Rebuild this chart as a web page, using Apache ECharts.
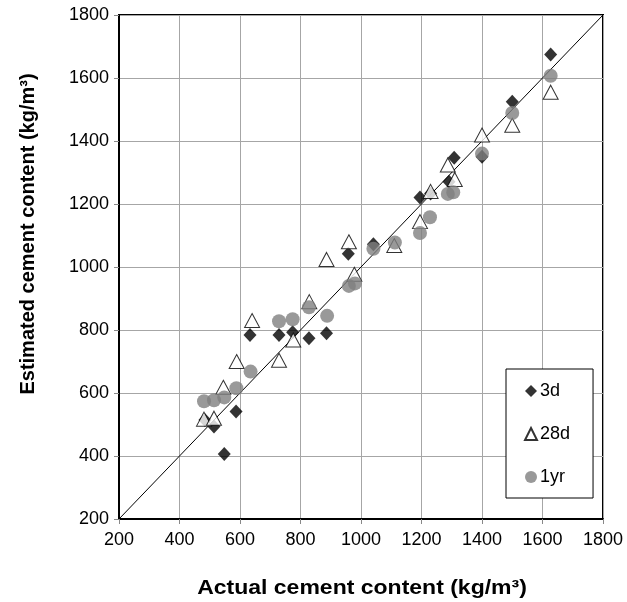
<!DOCTYPE html>
<html lang="en">
<head>
    <meta charset="UTF-8">
    <title>Cement content</title>
    <style>
        html, body { margin: 0; padding: 0; background: #fff; }
        #main { width: 627px; height: 602px; }
    </style>
</head>
<body>
<div id="main"></div>
<script src="https://cdn.jsdelivr.net/npm/echarts@6/dist/echarts.min.js"></script>
<script type="text/javascript">
    // actual vs estimated cement content, kg/m3
    var act3d = [484, 514, 548, 587, 633, 729, 774, 828, 886, 958, 1041, 1195, 1230, 1291, 1308, 1400, 1500, 1627];
    var est3d = [514, 494, 406, 541, 784, 784, 793, 774, 790, 1042, 1072, 1221, 1233, 1271, 1347, 1350, 1525, 1675];

    var act28d = [481, 514, 545, 589, 640, 729, 776, 829, 886, 960, 978, 1110, 1195, 1230, 1287, 1310, 1400, 1500, 1627];
    var est28d = [517, 520, 618, 700, 830, 704, 768, 890, 1024, 1080, 977, 1068, 1144, 1240, 1324, 1278, 1419, 1450, 1555];

    var act1yr = [481, 514, 548, 588, 635, 729, 774, 828, 888, 960, 980, 1041, 1112, 1195, 1228, 1287, 1305, 1400, 1500, 1627];
    var est1yr = [574, 577, 586, 615, 668, 828, 834, 872, 845, 940, 948, 1058, 1078, 1108, 1158, 1232, 1237, 1360, 1489, 1607];

    var lineEnds = [200, 1800];

    function pairs(xs, ys) {
        var out = [];
        for (var i = 0; i < xs.length; i++) out.push([xs[i], ys[i]]);
        return out;
    }

    var font = 'Liberation Sans, Arial, sans-serif';
    var chart = echarts.init(document.getElementById('main'));
    var axisCommon = {
        type: 'value',
        min: 200,
        max: 1800,
        interval: 200,
        axisLine: { show: true, lineStyle: { color: '#000', width: 2 } },
        axisTick: { show: true, length: 5, lineStyle: { color: '#888' } },
        axisLabel: {
            color: '#000', fontSize: 18, fontFamily: font, margin: 10,
            formatter: function (v) { return String(v); }
        },
        splitLine: { show: true, lineStyle: { color: '#a6a6a6', width: 1 } }
    };
    var option = {
        animation: false,
        grid: {
            left: 119, right: 24, top: 15, bottom: 83,
            show: true, borderColor: '#000', borderWidth: 2
        },
        xAxis: echarts.util.merge({ axisLabel: { margin: 12 } }, axisCommon),
        yAxis: echarts.util.merge({}, axisCommon),
        legend: {
            orient: 'vertical',
            left: 506,
            top: 369,
            padding: [13, 23, 12, 18],
            itemGap: 25,
            itemWidth: 12,
            itemHeight: 12,
            borderColor: '#000',
            borderWidth: 1,
            backgroundColor: '#fff',
            textStyle: { fontSize: 18, fontFamily: font, color: '#000', lineHeight: 18, padding: [0, 0, 0, -2] },
            data: ['3d', '28d', '1yr']
        },
        graphic: [
            {
                type: 'text', x: 362, y: 588, scaleX: 1.15,
                style: {
                    text: 'Actual cement content (kg/m³)', fill: '#000',
                    font: 'bold 20px ' + font, align: 'center', verticalAlign: 'middle'
                }
            },
            {
                type: 'text', x: 28, y: 234, rotation: Math.PI / 2,
                style: {
                    text: 'Estimated cement content (kg/m³)', fill: '#000',
                    font: 'bold 20px ' + font, align: 'center', verticalAlign: 'middle'
                }
            }
        ],
        series: [
            {
                name: 'fit',
                type: 'line',
                data: pairs(lineEnds, lineEnds),
                symbol: 'none',
                lineStyle: { color: '#000', width: 1 },
                z: 1
            },
            {
                name: '3d',
                type: 'scatter',
                symbol: 'diamond',
                symbolSize: [13, 14],
                itemStyle: { color: '#000' },
                data: pairs(act3d, est3d),
                z: 2
            },
            {
                name: '28d',
                type: 'scatter',
                symbol: 'triangle',
                symbolSize: [15, 14],
                itemStyle: { color: '#fff', borderColor: '#000', borderWidth: 1 },
                data: pairs(act28d, est28d),
                z: 3
            },
            {
                name: '1yr',
                type: 'scatter',
                symbol: 'circle',
                symbolSize: 14,
                itemStyle: { color: '#808080' },
                data: pairs(act1yr, est1yr),
                z: 4
            }
        ]
    };
    chart.setOption(option);
</script>
</body>
</html>
